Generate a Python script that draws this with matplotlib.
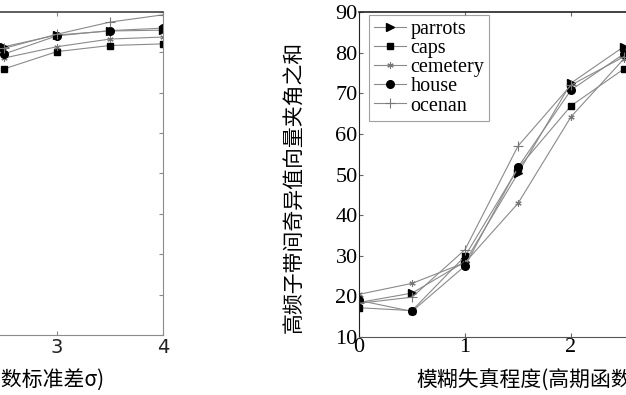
import matplotlib
matplotlib.use("Agg")
import matplotlib.pyplot as plt

# blur panel (right), x = blur sigma
blur_x = [0, 0.5, 1, 1.5, 2, 2.5]
blur_parrots = [18.5, 20.8, 28.5, 50.3, 72.5, 81.5]
blur_caps = [17.2, 16.5, 29.9, 51.5, 66.9, 76.0]
blur_cemetery = [20.5, 23.2, 28.3, 42.9, 64.2, 78.5]
blur_house = [19.0, 16.3, 27.5, 51.8, 70.8, 79.7]
blur_ocenan = [18.3, 19.8, 31.5, 57.0, 72.0, 79.0]

# noise panel (left, only its right end is visible)
noise_x = [2.5, 3, 3.5, 4]
noise_parrots = [81.4, 84.3, 85.3, 85.5]
noise_caps = [75.9, 80.2, 81.7, 82.1]
noise_cemetery = [78.6, 81.4, 83.3, 83.8]
noise_house = [79.6, 84.1, 85.4, 86.0]
noise_ocenan = [81.0, 84.5, 87.5, 89.3]

names = ["parrots", "caps", "cemetery", "house", "ocenan"]
ylabel = "高频子带间奇异值向量夹角之和"
left_xlabel = "噪声失真程度(高斯函数标准差σ)"
right_xlabel = "模糊失真程度(高期函数标准差σ)"

CJK = ["Noto Sans CJK SC", "DejaVu Sans"]
SERIF = "Liberation Serif"
LINE = "#8a8a8a"

styles = {
    "parrots": dict(marker=">", ms=5.5, mfc="black", mec="black"),
    "caps": dict(marker="s", ms=5, mfc="black", mec="black"),
    "cemetery": dict(marker=(6, 2, 0), ms=4.5, mec="#777777", mew=0.8),
    "house": dict(marker="o", ms=5.5, mfc="black", mec="black"),
    "ocenan": dict(marker="+", ms=6.5, mec="#777777", mew=0.8),
}

fig = plt.figure(figsize=(6.26, 3.95), dpi=100)
W, H = 626.0, 395.0

# left panel, pushed mostly out of the canvas
axl = fig.add_axes([-261 / W, 60 / H, 424 / W, 323 / H])
for nm, ys in zip(names, [noise_parrots, noise_caps, noise_cemetery, noise_house, noise_ocenan]):
    axl.plot(noise_x, ys, color=LINE, lw=0.8, **styles[nm])
axl.set_xlim(0, 4)
axl.set_ylim(10, 90)
axl.set_xticks([3, 4])
axl.set_yticks(range(10, 91, 10))
axl.tick_params(direction="in", top=True, right=True, length=3, color="#888888",
                labelsize=14, labelcolor="#222222", pad=2, labelleft=False)
for s in ["right", "bottom", "left"]:
    axl.spines[s].set_color("#8c8c8c")
axl.spines["top"].set_color("#444444")
axl.spines["top"].set_linewidth(1.2)
fig.text(105 / W, 1 - 381 / H, left_xlabel, ha="right", va="center",
         fontsize=15, family=CJK)

# right panel
axr = fig.add_axes([359 / W, 58 / H, 424 / W, 325 / H])
for nm, ys in zip(names, [blur_parrots, blur_caps, blur_cemetery, blur_house, blur_ocenan]):
    axr.plot(blur_x, ys, color=LINE, lw=0.8, label=nm, **styles[nm])
axr.set_xlim(0, 4)
axr.set_ylim(10, 90)
axr.set_xticks([0, 1, 2])
axr.set_yticks(range(10, 91, 10))
axr.tick_params(direction="in", top=True, right=True, length=3, color="#666666",
                labelsize=16, pad=1)
for lab in axr.get_xticklabels() + axr.get_yticklabels():
    lab.set_family(SERIF)
axr.spines["left"].set_color("#222222")
axr.spines["bottom"].set_color("#555555")
axr.spines["top"].set_color("#222222")
axr.spines["top"].set_linewidth(1.2)

leg = axr.legend(loc="upper left", bbox_to_anchor=(10 / 424, 322 / 325),
                 borderaxespad=0, fancybox=False, edgecolor="#888888",
                 prop={"family": SERIF, "size": 14.5}, handlelength=1.6,
                 handletextpad=0.2, labelspacing=0.0, borderpad=0.25)
leg.get_frame().set_linewidth(0.8)

fig.text(295 / W, 1 - 187 / H, ylabel, rotation=90, ha="center", va="center",
         fontsize=15, family=CJK)
fig.text(416 / W, 1 - 381 / H, right_xlabel, ha="left", va="center",
         fontsize=15, family=CJK)

fig.savefig("out.png", dpi=100)
